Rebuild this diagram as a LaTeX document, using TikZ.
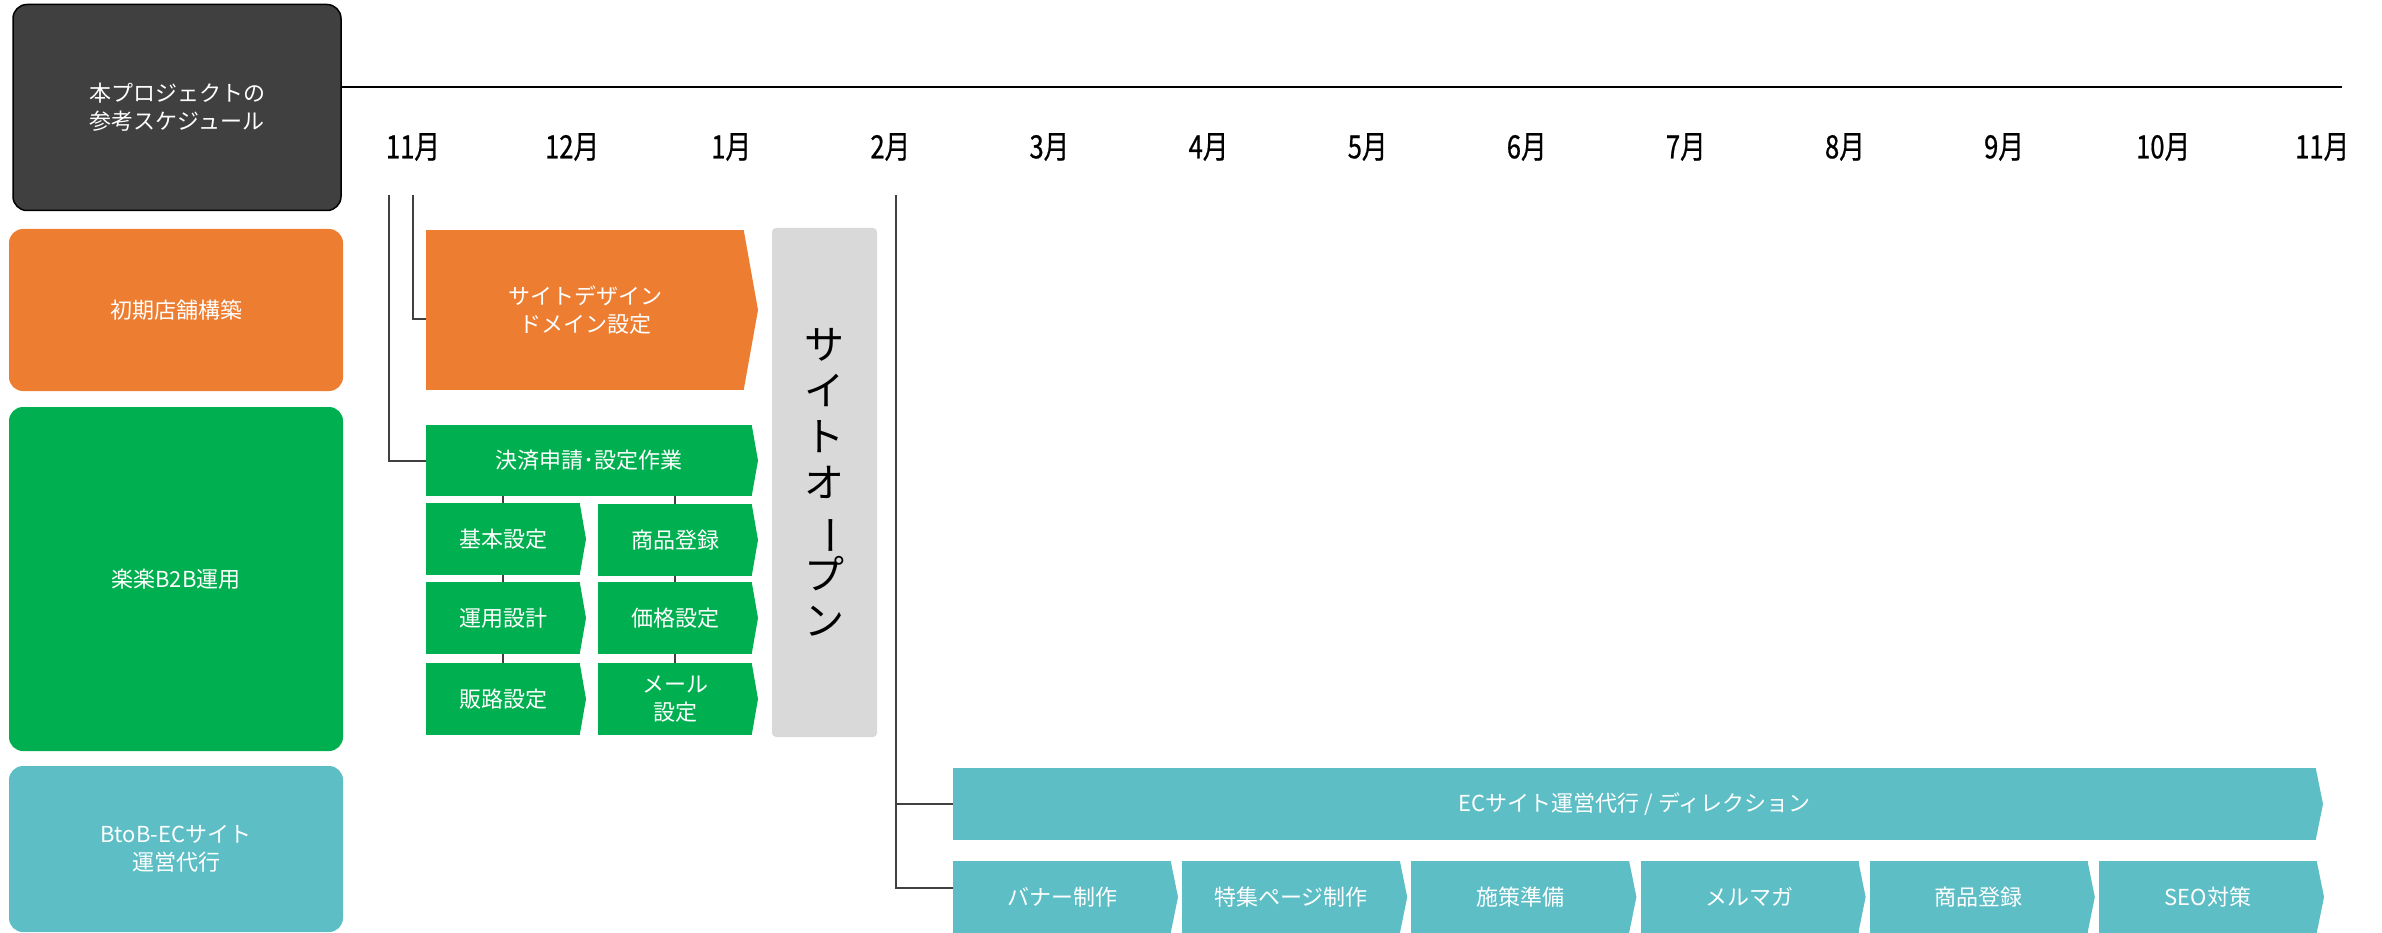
\documentclass[tikz,border=0pt]{standalone}
\usepackage{fontspec}
\usepackage{graphicx}
\setmainfont{Noto Sans CJK JP}
\newfontfamily\monthfont{Noto Sans CJK JP}[FakeStretch=0.8, FakeBold=0.6]
\usetikzlibrary{calc}
\definecolor{hdrgray}{HTML}{404040}
\definecolor{ora}{HTML}{ED7D31}
\definecolor{grn}{HTML}{00B050}
\definecolor{tea}{HTML}{5DBEC6}
\definecolor{lgray}{HTML}{D9D9D9}
\definecolor{conncol}{HTML}{404040}
\newcommand{\myfs}[1]{\fontsize{#1}{28}\selectfont}
\newcommand{\mytip}[3]{\fill[#2] ($(#1.north east)+(-0.3,0)$) -- ($(#1.east)+(#3,0)$) -- ($(#1.south east)+(-0.3,0)$) -- cycle;}
\tikzset{
  every node/.style={inner sep=0pt, outer sep=0pt},
  lbox/.style={rounded corners=14pt, minimum width=334pt, text=white, font=\myfs{22}, align=center},
  cbox/.style={minimum height=72pt, text=white, font=\myfs{22}, align=center},
  conn/.style={draw=conncol, line width=2pt},
  month/.style={font=\monthfont\myfs{32}, text=black},
}
\begin{document}
\begin{tikzpicture}[x=1pt,y=-1pt]
\useasboundingbox (0,0) rectangle (2382,933);

% left column
\node[lbox, fill=hdrgray, draw=black, line width=1.5pt, minimum width=328pt, minimum height=206pt] (hdr) at (177,107.5) {本プロジェクトの\\参考スケジュール};
\node[lbox, fill=ora, minimum height=162pt] (lc1) at (176,310) {初期店舗構築};
\node[lbox, fill=grn, minimum height=344pt] (lc2) at (176,579) {楽楽B2B運用};
\node[lbox, fill=tea, minimum height=166pt] (lc3) at (176,849) {BtoB-ECサイト\\運営代行};

% timeline
\coordinate (tl) at (2342,87);
\draw[line width=2pt, black] (hdr.east |- tl) -- (tl);
\foreach \m [count=\i from 0] in {11,12,1,2,3,4,5,6,7,8,9,10,11}
  \node[month] (m\i) at ({413+159.1*\i},147) {\m 月};

% initial build
\node[cbox, fill=ora, minimum width=318pt, minimum height=160pt] (design) at (585,310) {サイトデザイン\\ドメイン設定};
\mytip{design}{ora}{14}

% B2B
\node[cbox, fill=grn, minimum width=326pt, minimum height=71pt] (pay) at (589,460.5) {決済申請･設定作業};
\mytip{pay}{grn}{6}
\node[cbox, fill=grn, minimum width=154pt] (kihon) at (503,539) {基本設定};
\node[cbox, fill=grn, minimum width=154pt] (unyo) at (503,618) {運用設計};
\node[cbox, fill=grn, minimum width=154pt] (hanro) at (503,699) {販路設定};
\node[cbox, fill=grn, minimum width=154pt] (shohin) at (675,540) {商品登録};
\node[cbox, fill=grn, minimum width=154pt] (kakaku) at (675,618) {価格設定};
\node[cbox, fill=grn, minimum width=154pt] (mail) at (675,699) {メール\\設定};
\foreach \n in {kihon,unyo,hanro,shohin,kakaku,mail} {\mytip{\n}{grn}{6}}
\draw[conn] (pay.south -| kihon) -- (kihon.north);
\draw[conn] (kihon.south) -- (unyo.north);
\draw[conn] (unyo.south) -- (hanro.north);
\draw[conn] (pay.south -| shohin) -- (shohin.north);
\draw[conn] (shohin.south) -- (kakaku.north);
\draw[conn] (kakaku.south) -- (mail.north);

% site open
\node[fill=lgray, rounded corners=4pt, minimum width=105pt, minimum height=509pt, align=center, font=\fontsize{40}{46}\selectfont, text=black] (open) at (824.5,482.5)
  {サ\\イ\\ト\\オ\\\rotatebox[origin=c]{-90}{ー}\\プ\\ン};

% connectors from 11月
\coordinate (a0) at (389,195);
\coordinate (b0) at (413,195);
\draw[conn] (a0) |- (pay.west);
\draw[conn] (b0) |- ([yshift=-9pt]design.west);

% EC operations
\node[cbox, fill=tea, minimum width=1363pt] (ec) at (1634.5,804) {ECサイト運営代行 / ディレクション};
\mytip{ec}{tea}{7}
\foreach \t [count=\i from 0] in {バナー制作,特集ページ制作,施策準備,メルマガ,商品登録,SEO対策} {
  \node[cbox, fill=tea, minimum width=218pt] (bt\i) at ({1062+229.2*\i},897) {\t};
  \mytip{bt\i}{tea}{7}
}
\coordinate (c0) at (896,195);
\draw[conn] (c0) |- ([yshift=9pt]bt0.west);
\draw[conn] (c0 |- ec.west) -- (ec.west);
\end{tikzpicture}
\end{document}
